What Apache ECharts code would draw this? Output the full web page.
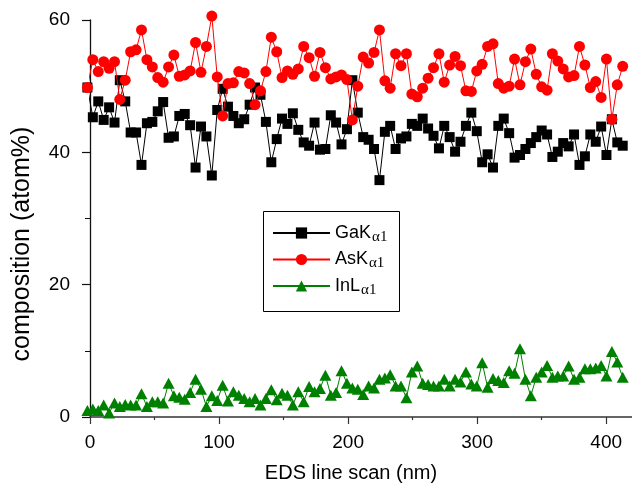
<!DOCTYPE html>
<html><head><meta charset="utf-8">
<script src="https://cdn.jsdelivr.net/npm/echarts@6/dist/echarts.min.js"></script>
<style>html,body{margin:0;padding:0;background:#fff}#c{width:632px;height:487px}</style>
</head><body><div id="c"></div>
<script>
// EDS line scan positions (nm)
const positionsNm = [
 -2.0, 2.2, 6.4, 10.6, 14.8, 19.0, 23.1, 27.3, 31.5, 35.7,
 39.9, 44.1, 48.3, 52.5, 56.7, 60.9, 65.0, 69.2, 73.4, 77.6,
 81.8, 86.0, 90.2, 94.4, 98.6, 102.8, 106.9, 111.1, 115.3, 119.5,
 123.7, 127.9, 132.1, 136.3, 140.5, 144.7, 148.8, 153.0, 157.2, 161.4,
 165.6, 169.8, 174.0, 178.2, 182.4, 186.6, 190.7, 194.9, 199.1, 203.3,
 207.5, 211.7, 215.9, 220.1, 224.3, 228.5, 232.6, 236.8, 241.0, 245.2,
 249.4, 253.6, 257.8, 262.0, 266.2, 270.4, 274.5, 278.7, 282.9, 287.1,
 291.3, 295.5, 299.7, 303.9, 308.1, 312.3, 316.4, 320.6, 324.8, 329.0,
 333.2, 337.4, 341.6, 345.8, 350.0, 354.2, 358.3, 362.5, 366.7, 370.9,
 375.1, 379.3, 383.5, 387.7, 391.9, 396.1, 400.2, 404.4, 408.6, 412.8
];
// GaKα1 composition (atom%)
const gaK = [
 49.8, 45.3, 47.7, 44.9, 46.8, 44.5, 50.9, 47.7, 43.0, 43.0,
 38.1, 44.4, 44.6, 46.2, 47.6, 42.2, 42.4, 45.5, 45.8, 44.1,
 37.7, 43.9, 42.4, 36.5, 46.4, 49.6, 46.9, 45.5, 44.4, 45.0,
 47.2, 49.8, 48.7, 44.6, 38.5, 42.0, 45.1, 44.3, 45.9, 43.4,
 41.5, 41.0, 44.5, 40.4, 40.5, 45.6, 44.5, 41.2, 43.5, 50.9,
 46.0, 42.3, 41.9, 40.5, 35.8, 43.1, 44.0, 40.5, 42.1, 42.4,
 44.3, 44.0, 45.1, 43.6, 42.5, 40.6, 44.0, 42.3, 40.1, 41.6,
 44.0, 46.0, 43.2, 38.5, 39.7, 37.7, 44.0, 45.1, 42.9, 39.2,
 39.6, 40.5, 41.4, 42.3, 43.3, 42.7, 39.3, 40.1, 41.4, 40.9,
 42.7, 38.1, 39.4, 42.7, 41.6, 43.9, 39.6, 45.0, 41.5, 41.0
];
// AsKα1 composition (atom%)
const asK = [
 49.8, 54.0, 52.2, 53.7, 52.7, 53.7, 48.0, 50.9, 55.2, 55.5,
 58.5, 54.0, 52.9, 51.3, 50.6, 52.9, 54.7, 51.5, 51.7, 52.3,
 56.6, 52.1, 56.0, 60.6, 51.4, 45.5, 50.4, 50.5, 52.2, 52.0,
 50.4, 47.2, 49.3, 52.2, 57.4, 55.2, 51.3, 52.3, 51.8, 52.6,
 56.0, 54.3, 51.5, 55.1, 52.8, 51.1, 51.4, 51.7, 51.0, 44.9,
 50.0, 54.4, 53.5, 55.1, 58.5, 50.8, 49.7, 54.9, 53.1, 54.9,
 48.8, 48.4, 49.7, 51.2, 52.8, 54.9, 50.6, 53.2, 54.5, 53.1,
 49.3, 49.2, 52.3, 53.3, 56.0, 56.4, 50.4, 49.7, 50.0, 54.1,
 50.2, 53.7, 55.6, 51.8, 49.9, 49.4, 54.9, 53.8, 52.6, 51.4,
 51.6, 56.0, 53.2, 49.8, 50.7, 48.3, 54.1, 45.0, 50.2, 53.0
];
// InLα1 composition (atom%)
const inL = [
 1.0, 1.2, 1.0, 1.8, 0.6, 2.1, 1.6, 1.9, 1.8, 1.8,
 3.5, 1.6, 2.3, 2.3, 2.1, 5.1, 3.2, 3.0, 2.7, 3.7,
 5.7, 4.2, 1.6, 3.2, 2.5, 4.8, 2.4, 3.8, 3.3, 2.8,
 2.3, 2.8, 1.8, 2.8, 4.1, 2.6, 3.6, 3.3, 1.8, 3.8,
 2.3, 4.6, 3.8, 4.3, 6.3, 3.3, 3.7, 7.0, 5.1, 4.4,
 4.2, 3.4, 4.7, 4.4, 5.7, 5.9, 6.4, 4.7, 4.7, 2.9,
 6.8, 7.7, 5.1, 4.9, 4.7, 4.7, 5.7, 4.7, 5.7, 5.3,
 6.8, 5.0, 4.7, 8.2, 4.5, 5.8, 5.5, 5.2, 7.0, 6.6,
 10.3, 5.7, 3.2, 6.0, 6.8, 7.8, 6.0, 6.2, 6.2, 7.7,
 5.7, 6.0, 7.3, 7.3, 7.4, 7.8, 6.2, 9.9, 8.3, 6.0
];
const seriesNames = ['GaK', 'AsK', 'InL'];
const seriesSub = 'α1';
const xMajorTicks = [0, 100, 200, 300, 400];
const xMinorTicks = [50, 150, 250, 350];
const yTicks = [0, 20, 40, 60];
const xTitle = 'EDS line scan (nm)';
const yTitle = 'composition (atom%)';

const FONT = '"Liberation Sans", Arial, sans-serif';
const pairs = arr => positionsNm.map((x, i) => [x, arr[i]]);

const chart = echarts.init(document.getElementById('c'), null, {renderer: 'canvas'});
chart.setOption({
  animation: false,
  backgroundColor: '#fff',
  grid: {left: 90, top: 20, right: 0, bottom: 70, containLabel: false},
  xAxis: [{
    type: 'value', min: 0, max: 420, position: 'bottom',
    axisLine: {show: true, onZero: false, lineStyle: {color: '#333', width: 1.5}},
    axisTick: {show: true, customValues: xMajorTicks, length: 7, lineStyle: {color: '#333', width: 1.2}},
    axisLabel: {customValues: xMajorTicks, fontSize: 19, fontFamily: FONT, color: '#000', margin: 16},
    splitLine: {show: false}
  }, {
    type: 'value', min: 0, max: 420, position: 'bottom', gridIndex: 0,
    axisLine: {show: false},
    axisTick: {show: true, customValues: xMinorTicks, length: 3, lineStyle: {color: '#333', width: 1.2}},
    axisLabel: {show: false},
    splitLine: {show: false}
  }],
  yAxis: {
    type: 'value', min: 0, max: 60, interval: 20,
    axisLine: {show: true, onZero: false, lineStyle: {color: '#111', width: 1.3}},
    axisTick: {show: true, length: 8, lineStyle: {color: '#111', width: 1.2}},
    minorTick: {show: true, splitNumber: 2, length: 5, lineStyle: {color: '#111', width: 1}},
    axisLabel: {fontSize: 19, fontFamily: FONT, color: '#000', margin: 20,
      customValues: yTicks},
    splitLine: {show: false}
  },
  legend: {
    orient: 'vertical', left: 272, top: 224, padding: 0,
    itemWidth: 57, itemHeight: 14, itemGap: 6, selectedMode: false,
    data: seriesNames,
    formatter: n => n + '{s|' + seriesSub + '}',
    textStyle: {fontSize: 18, fontFamily: FONT, color: '#000',
      rich: {s: {fontSize: 15, fontFamily: '"Liberation Serif", serif', padding: [8, 0, 0, 1], color: '#000'}}}
  },
  graphic: [
    {type: 'rect', left: 261, top: 209, shape: {width: 136, height: 100},
     style: {fill: 'none', stroke: '#000', lineWidth: 1}, silent: true},
    {type: 'text', x: 22, y: 244, rotation: Math.PI / 2,
     style: {text: yTitle, fontSize: 25, fontFamily: FONT, fill: '#000', align: 'center', verticalAlign: 'middle'}},
    {type: 'text', x: 351, y: 473,
     style: {text: xTitle, fontSize: 20, fontFamily: FONT, fill: '#000', align: 'center', verticalAlign: 'middle'}}
  ],
  series: [
    {type: 'line', name: 'GaK', data: pairs(gaK), symbol: 'rect', symbolSize: 10, showAllSymbol: true,
     clip: false, itemStyle: {color: '#000'}, lineStyle: {color: '#000', width: 1}, z: 2},
    {type: 'line', name: 'AsK', data: pairs(asK), symbol: 'circle', symbolSize: 11, showAllSymbol: true,
     clip: false, itemStyle: {color: '#ff0000'}, lineStyle: {color: '#ff0000', width: 1}, z: 3},
    {type: 'line', name: 'InL', data: pairs(inL), symbol: 'triangle', symbolSize: [12, 11], showAllSymbol: true,
     clip: false, itemStyle: {color: '#008000'}, lineStyle: {color: '#008000', width: 1}, z: 2}
  ]
});
</script></body></html>
